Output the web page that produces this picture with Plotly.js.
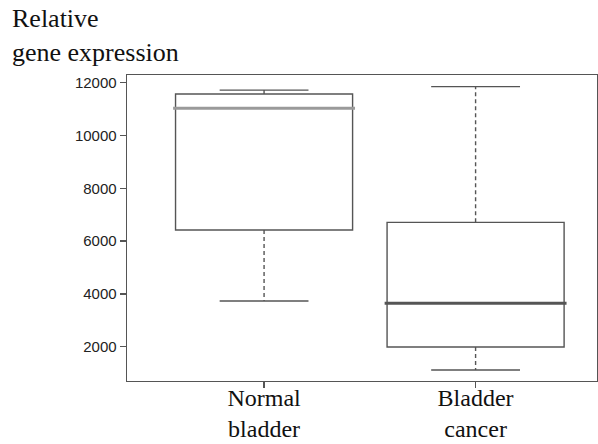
<!DOCTYPE html>
<html>
<head>
<meta charset="utf-8">
<script src="https://cdn.plot.ly/plotly-3.0.1.min.js"></script>
<style>html,body{margin:0;padding:0;background:#fff;}#chart{width:598px;height:444px;}</style>
</head>
<body>
<div id="chart"></div>
<script>
// Data
const categories = ['Normal<br>bladder', 'Bladder<br>cancer'];
const positions = [0, 1];
const lowerWhisker = [3730, 1115];
const q1 = [6420, 1990];
const median = [11030, 3645];
const q3 = [11570, 6710];
const upperWhisker = [11720, 11850];
const yTicks = [2000, 4000, 6000, 8000, 10000, 12000];
const yTitle = 'Relative<br>gene expression';

const lineColor = '#555555';
const medianColors = ['#9a9a9a', '#555555'];
const boxWidth = 0.837;
const capHalf = 0.21;
const medHalf = 0.43;
const serif = '"Liberation Serif", "Times New Roman", serif';

const traces = [];
for (let i = 0; i < categories.length; i++) {
  traces.push({
    type: 'box',
    x: [positions[i]],
    q1: [q1[i]], median: [median[i]], q3: [q3[i]],
    lowerfence: [q1[i]], upperfence: [q3[i]],
    width: boxWidth,
    fillcolor: 'rgba(0,0,0,0)',
    line: {color: lineColor, width: 1.4},
    hoverinfo: 'skip', showlegend: false
  });
  traces.push({type:'scatter', mode:'lines', x:[positions[i], positions[i]], y:[q3[i], upperWhisker[i]],
    line:{color:lineColor, width:1.4, dash:'4px,3px'}, hoverinfo:'skip', showlegend:false});
  traces.push({type:'scatter', mode:'lines', x:[positions[i], positions[i]], y:[q1[i], lowerWhisker[i]],
    line:{color:lineColor, width:1.4, dash:'4px,3px'}, hoverinfo:'skip', showlegend:false});
  traces.push({type:'scatter', mode:'lines', x:[positions[i]-capHalf, positions[i]+capHalf], y:[upperWhisker[i], upperWhisker[i]],
    line:{color:lineColor, width:1.4}, hoverinfo:'skip', showlegend:false});
  traces.push({type:'scatter', mode:'lines', x:[positions[i]-capHalf, positions[i]+capHalf], y:[lowerWhisker[i], lowerWhisker[i]],
    line:{color:lineColor, width:1.4}, hoverinfo:'skip', showlegend:false});
  traces.push({type:'scatter', mode:'lines', x:[positions[i]-medHalf, positions[i]+medHalf], y:[median[i], median[i]],
    line:{color:medianColors[i], width:3}, hoverinfo:'skip', showlegend:false});
}

const layout = {
  width: 598, height: 444,
  margin: {l: 127, r: 1, t: 75, b: 63},
  paper_bgcolor: '#ffffff', plot_bgcolor: '#ffffff',
  showlegend: false,
  annotations: [{
    text: yTitle, showarrow: false, align: 'left',
    xref: 'paper', yref: 'paper', x: (10 - 127) / 470, y: (381 - 2) / 306,
    xanchor: 'left', yanchor: 'top',
    font: {family: serif, size: 26, color: '#111'}
  }],
  xaxis: {
    range: [-0.648, 1.574],
    tickvals: positions, ticktext: categories,
    tickfont: {family: serif, size: 24, color: '#111'},
    ticks: 'outside', ticklen: 6, tickcolor: lineColor, tickwidth: 1.4,
    ticklabelstandoff: -11,
    showline: true, linecolor: lineColor, linewidth: 1.4, mirror: true,
    showgrid: false, zeroline: false, fixedrange: true
  },
  yaxis: {
    range: [701, 12292],
    tickvals: yTicks, ticktext: yTicks.map(String),
    tickfont: {family: '"Liberation Sans", Arial, sans-serif', size: 15, color: '#222'},
    ticks: 'outside', ticklen: 6, tickcolor: lineColor, tickwidth: 1.4,
    showline: true, linecolor: lineColor, linewidth: 1.4, mirror: true,
    showgrid: false, zeroline: false, fixedrange: true
  }
};

Plotly.newPlot('chart', traces, layout, {displayModeBar: false, staticPlot: true});
</script>
</body>
</html>
